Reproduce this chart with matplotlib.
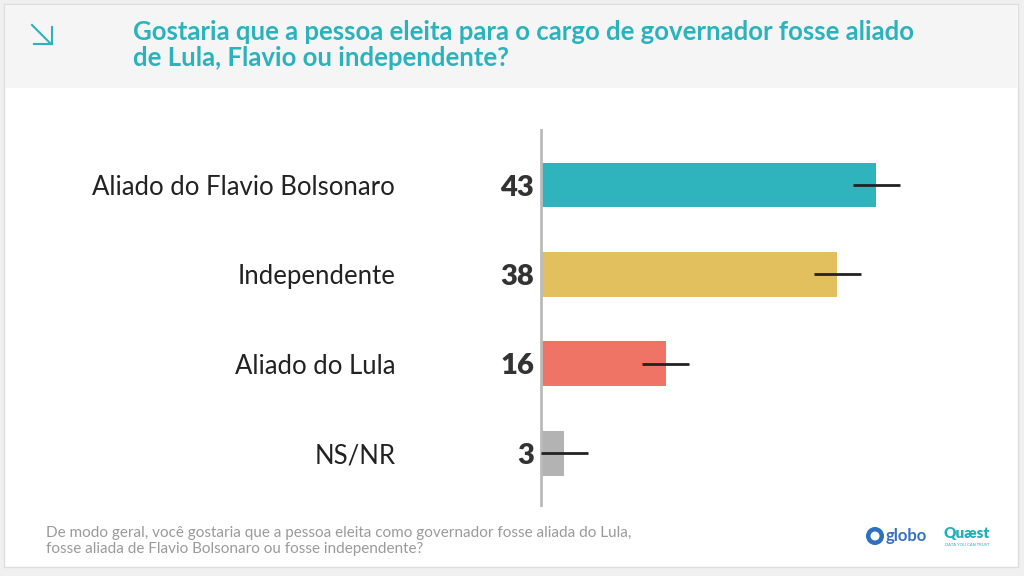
import matplotlib
matplotlib.use("Agg")
import matplotlib.pyplot as plt
from matplotlib.patches import Rectangle, Ellipse
from matplotlib.lines import Line2D

# data
categories = ["Aliado do Flavio Bolsonaro", "Independente", "Aliado do Lula", "NS/NR"]
values = [43, 38, 16, 3]
margin = [3, 3, 3, 3]
colors = ["#2fb4bd", "#e2c05e", "#ef7465", "#b3b3b3"]

title = "Gostaria que a pessoa eleita para o cargo de governador fosse aliado\nde Lula, Flavio ou independente?"
footnote = ("De modo geral, você gostaria que a pessoa eleita como governador fosse aliada do Lula,\n"
            "fosse aliada de Flavio Bolsonaro ou fosse independente?")

plt.rcParams["font.family"] = ["Lato", "DejaVu Sans"]

W, H = 1024, 576
fig = plt.figure(figsize=(W / 100, H / 100), dpi=100)
fig.patch.set_facecolor("#f0f0f0")


def fx(x):
    return x / W


def fy(y):
    return 1 - y / H


# card + header band (behind the axes)
fig.patches.append(Rectangle((fx(4), fy(567)), fx(1014), 563 / H, transform=fig.transFigure,
                             facecolor="white", edgecolor="#dddddd", lw=1, zorder=-2))
fig.patches.append(Rectangle((fx(5), fy(88)), fx(1012), 83 / H, transform=fig.transFigure,
                             facecolor="#f5f5f5", edgecolor="none", zorder=-1))

# arrow icon
teal = "#2bb3bd"
for xs, ys in [((32, 51), (25, 44)), ((34, 52), (44, 44)), ((52, 52), (27, 44))]:
    fig.lines.append(Line2D([fx(x) for x in xs], [fy(y) for y in ys], transform=fig.transFigure,
                            color=teal, lw=1.5))

fig.text(fx(133), fy(44.5), title, color=teal, fontsize=18.5, fontweight="bold",
         va="center", ha="left", linespacing=1.1)

# chart
ax = fig.add_axes([fx(541), fy(505), 468 / W, 375 / H])
y = list(range(len(categories)))
ax.barh(y, values, height=0.5, color=colors, zorder=2)
ax.errorbar(values, y, xerr=margin, fmt="none", ecolor="#222222", elinewidth=2, capsize=0, zorder=3)
ax.set_xlim(0, 60)
ax.set_ylim(3.58, -0.616)
for s in ["top", "right", "bottom"]:
    ax.spines[s].set_visible(False)
ax.spines["left"].set_color("#bbbbbb")
ax.spines["left"].set_linewidth(2)
ax.set_xticks([])
ax.set_yticks([])
ax.patch.set_alpha(0)

for yi, (cat, v) in enumerate(zip(categories, values)):
    ax.text(-0.9, yi, str(v), ha="right", va="center_baseline", fontsize=21, fontweight="heavy",
            color="#333333", clip_on=False)
    ax.text(-18.7, yi, cat, ha="right", va="center_baseline", fontsize=18.5, color="#222222",
            clip_on=False)

# footnote
fig.text(fx(46), fy(541), footnote, color="#9a9a9a", fontsize=11, ha="left", va="center",
         linespacing=1.2)

# logos
fig.patches.append(Ellipse((fx(875), fy(536)), 18 / W, 18 / H, transform=fig.transFigure,
                           facecolor="#2e6fc0", edgecolor="none"))
fig.patches.append(Ellipse((fx(875), fy(536)), 9 / W, 9 / H, transform=fig.transFigure,
                           facecolor="white", edgecolor="none"))
fig.text(fx(886), fy(536), "globo", color="#3a6fc0", fontsize=12, fontweight="bold",
         ha="left", va="center")
fig.text(fx(944), fy(533), "Quæst", color="#1fb0b8", fontsize=11, fontweight="heavy",
         ha="left", va="center")
fig.text(fx(945), fy(545), "DATA YOU CAN TRUST", color="#1fb0b8", fontsize=3,
         ha="left", va="center")

fig.savefig("out.png", dpi=100, facecolor=fig.get_facecolor())
